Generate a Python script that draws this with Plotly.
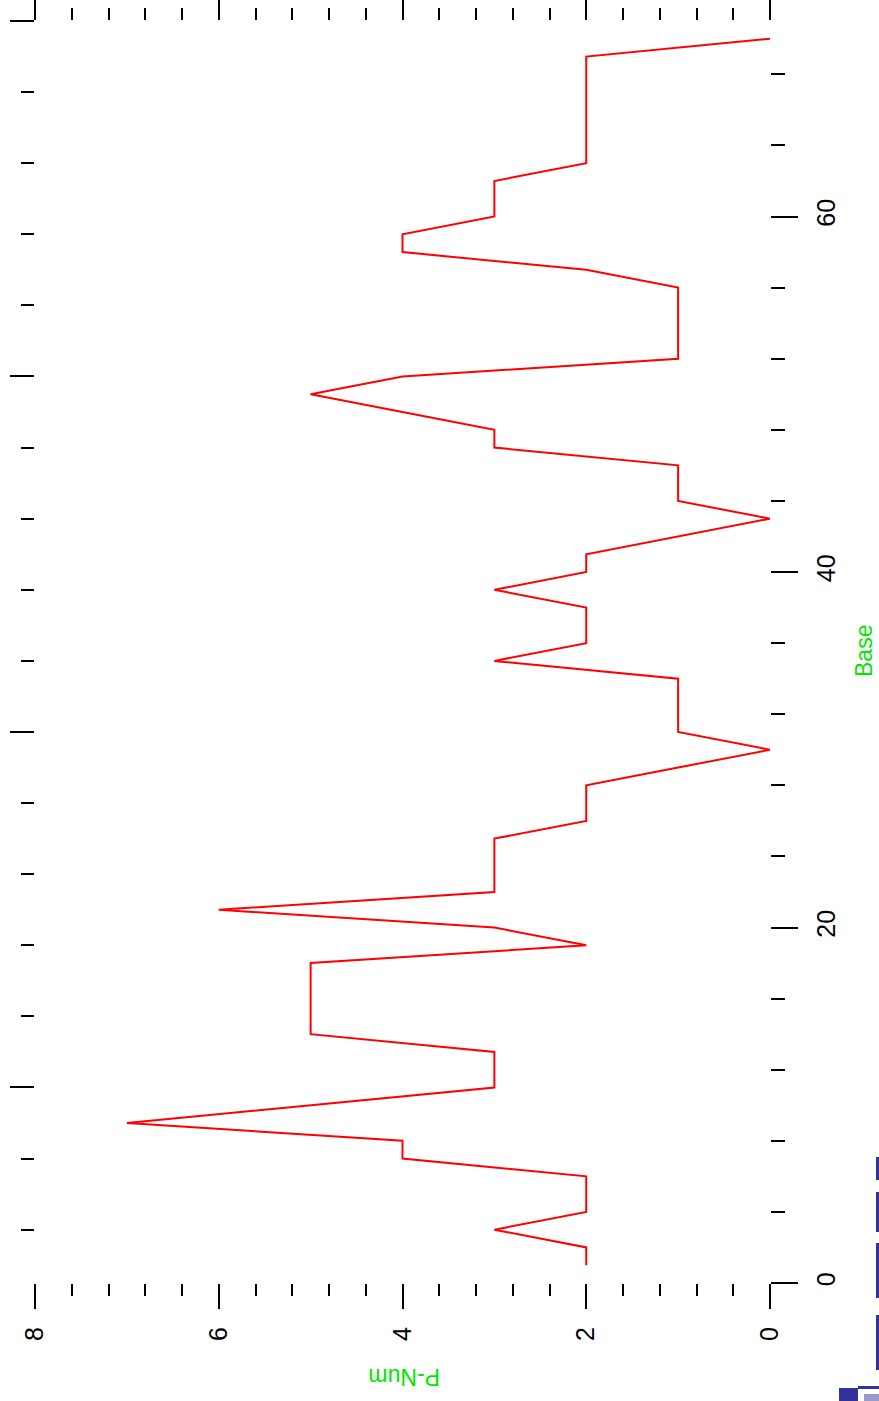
import plotly.graph_objects as go

# P-Num profile along the sequence (one value per base position)
base = list(range(1, 71))
p_num = [2, 2, 3, 2, 2, 2, 4, 4, 7, 5,
         3, 3, 3, 5, 5, 5, 5, 5, 2, 3,
         6, 3, 3, 3, 3, 2, 2, 2, 1, 0,
         1, 1, 1, 1, 3, 2, 2, 2, 3, 2,
         2, 1, 0, 1, 1, 1, 3, 3, 4, 5,
         4, 1, 1, 1, 1, 1, 2, 4, 4, 3,
         3, 3, 2, 2, 2, 2, 2, 2, 2, 0]

pnum_ticks = [0, 2, 4, 6, 8]
base_ticks = [0, 20, 40, 60]
left_ticks = [11, 31, 51, 71]

W, H = 879, 1401
L, R, T, B = 35, 109, 21, 118

tick_font = dict(family="Liberation Sans", size=25, color="black")
green = "#00e600"


def ticks(major_len, minor_len, minor_dtick, minor_tick0=0):
    return dict(
        ticks="outside", ticklen=major_len, tickwidth=2, tickcolor="black",
        showline=False, showgrid=False, zeroline=False, automargin=False,
        minor=dict(ticks="outside", ticklen=minor_len, tickwidth=2,
                   tickcolor="black", dtick=minor_dtick, tick0=minor_tick0,
                   showgrid=False),
    )


fig = go.Figure()
fig.add_trace(go.Scatter(
    x=p_num, y=base, mode="lines",
    line=dict(color="#ff0000", width=2),
    xaxis="x", yaxis="y", showlegend=False, hoverinfo="skip",
))
# placeholder trace so the mirrored top/left axes are rendered
fig.add_trace(go.Scatter(x=[None], y=[None], xaxis="x2", yaxis="y2",
                         showlegend=False, hoverinfo="skip"))


def px_to_paper(px, py):
    return (px - L) / (W - L - R), (H - B - py) / (H - T - B)


shapes = []
dark = "#333399"
light = "#9999cc"
for (x0, y0, x1, y1, c) in [
    (876, 1157, 879, 1180, dark),
    (876, 1192, 879, 1232, dark),
    (876, 1243, 879, 1298, dark),
    (876, 1315, 879, 1370, dark),
    (839, 1388, 858, 1401, dark),
    (858, 1386, 879, 1389, dark),
    (864, 1394, 879, 1401, light),
]:
    a0, b0 = px_to_paper(x0, y1)
    a1, b1 = px_to_paper(x1, y0)
    shapes.append(dict(type="rect", xref="paper", yref="paper",
                       x0=a0, y0=b0, x1=a1, y1=b1,
                       fillcolor=c, line=dict(width=0), layer="above"))

bx, by = px_to_paper(864, 651)
nx, ny = px_to_paper(404, 1377)

fig.update_layout(
    width=W, height=H, autosize=False,
    margin=dict(l=L, r=R, t=T, b=B, pad=0, autoexpand=False),
    plot_bgcolor="white", paper_bgcolor="white", showlegend=False,
    xaxis=dict(range=[8, 0], tickvals=pnum_ticks, tickangle=-90,
               tickfont=tick_font, ticklabelstandoff=8,
               **ticks(25, 12, 0.4)),
    xaxis2=dict(range=[8, 0], overlaying="x", side="top",
                tickvals=pnum_ticks, showticklabels=False,
                **ticks(25, 12, 0.4)),
    yaxis=dict(range=[0, 71], side="right", tickvals=base_ticks,
               tickangle=-90, tickfont=tick_font, ticklabelstandoff=7,
               **ticks(27, 14, 4)),
    yaxis2=dict(range=[0, 71], overlaying="y", side="left",
                tickvals=left_ticks, showticklabels=False,
                **ticks(24, 13, 4, 3)),
    shapes=shapes,
    annotations=[
        dict(text="Base", xref="paper", yref="paper", x=bx, y=by,
             xanchor="center", yanchor="middle", borderpad=0,
             showarrow=False, textangle=-90,
             font=dict(family="Liberation Sans", size=23, color=green)),
        dict(text="P-Num", xref="paper", yref="paper", x=nx, y=ny,
             xanchor="center", yanchor="middle", borderpad=0,
             showarrow=False, textangle=180,
             font=dict(family="Liberation Sans", size=23, color=green)),
    ],
)

fig.write_html("out.html")
